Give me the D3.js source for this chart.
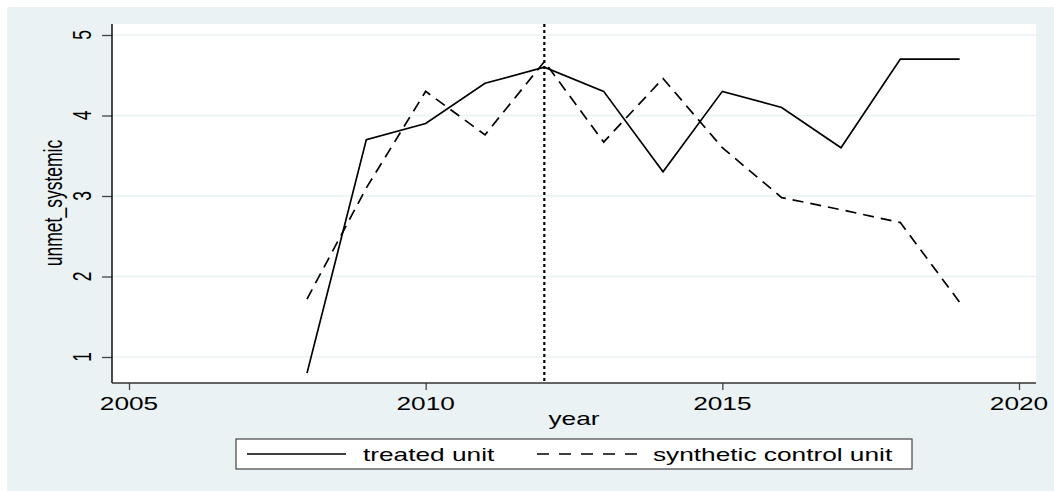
<!DOCTYPE html>
<html lang="en">
<head>
  <meta charset="UTF-8">
  <title>Synthetic control: unmet_systemic</title>
  <script src="https://d3js.org/d3.v7.min.js"></script>
  <style>
    body { margin: 0; padding: 0; overflow: hidden; background: #fff; }
    text { font-family: "Liberation Sans", Arial, sans-serif; fill: #000; }
  </style>
</head>
<body>
  <svg id="chart" width="1054" height="491"></svg>

  <script>
    // Data
    const years = [2008, 2009, 2010, 2011, 2012, 2013, 2014, 2015, 2016, 2017, 2018, 2019];
    const treated = [0.8, 3.7, 3.9, 4.4, 4.6, 4.3, 3.3, 4.3, 4.1, 3.6, 4.7, 4.7];
    const synthetic = [1.72, 3.1, 4.3, 3.76, 4.67, 3.67, 4.46, 3.6, 2.98, 2.83, 2.67, 1.68];
    const xTicks = [2005, 2010, 2015, 2020];
    const yTicks = [1, 2, 3, 4, 5];
    const treatmentYear = 2012;
    const legendLabels = ["treated unit", "synthetic control unit"];

    const svg = d3.select("#chart");
    const fs = 17.5, sx = 1.5;   // Stata output is stretched horizontally
    const plot = { left: 112, right: 1036, top: 24, bottom: 383 };

    // Scales
    const x = d3.scaleLinear().domain([2005, 2020]).range([129, 1019]);
    const y = d3.scaleLinear().domain([1, 5]).range([357, 35]);

    // Background
    svg.append("rect").attr("x", 7).attr("y", 7).attr("width", 1047).attr("height", 484)
      .attr("fill", "#eaf2f3");
    svg.append("rect").attr("x", plot.left).attr("y", plot.top)
      .attr("width", plot.right - plot.left).attr("height", plot.bottom - plot.top)
      .attr("fill", "#fff");

    // Gridlines
    svg.append("g").selectAll("line").data(yTicks).join("line")
      .attr("x1", plot.left).attr("x2", plot.right)
      .attr("y1", d => y(d)).attr("y2", d => y(d))
      .attr("stroke", "#eaf2f3").attr("stroke-width", 1.5);

    // Y axis
    const yAxis = svg.append("g").attr("transform", `translate(${plot.left},0)`)
      .call(d3.axisLeft(y).tickValues(yTicks).tickSize(10).tickSizeOuter(0).tickFormat(d3.format("d")));
    yAxis.select(".domain").remove();
    yAxis.selectAll(".tick line").attr("stroke", "#444").attr("stroke-width", 1.3);
    yAxis.selectAll(".tick text").remove();
    svg.append("line").attr("x1", plot.left).attr("x2", plot.left)
      .attr("y1", plot.top).attr("y2", plot.bottom).attr("stroke", "#000").attr("stroke-width", 1.4);

    svg.append("g").selectAll("text").data(yTicks).join("text")
      .attr("transform", d => `translate(91,${y(d)}) scale(${sx},1) rotate(-90)`)
      .attr("text-anchor", "middle").attr("font-size", fs)
      .text(d => d);

    svg.append("text")
      .attr("transform", `translate(62,203) scale(${sx},1) rotate(-90)`)
      .attr("text-anchor", "middle").attr("font-size", fs)
      .text("unmet_systemic");

    // X axis
    const xAxis = svg.append("g").attr("transform", `translate(0,${plot.bottom})`)
      .call(d3.axisBottom(x).tickValues(xTicks).tickSize(7).tickSizeOuter(0).tickFormat(d3.format("d")));
    xAxis.select(".domain").remove();
    xAxis.selectAll(".tick line").attr("stroke", "#444").attr("stroke-width", 1.3);
    xAxis.selectAll(".tick text").remove();
    svg.append("line").attr("x1", plot.left).attr("x2", plot.right)
      .attr("y1", plot.bottom).attr("y2", plot.bottom).attr("stroke", "#333").attr("stroke-width", 1.4);

    svg.append("g").selectAll("text").data(xTicks).join("text")
      .attr("transform", d => `translate(${x(d)},409.5) scale(${sx},1)`)
      .attr("text-anchor", "middle").attr("font-size", fs)
      .text(d => d);

    svg.append("text")
      .attr("transform", `translate(${(plot.left + plot.right) / 2},425) scale(${sx},1)`)
      .attr("text-anchor", "middle").attr("font-size", fs)
      .text("year");

    // Treatment line
    svg.append("line")
      .attr("x1", x(treatmentYear)).attr("x2", x(treatmentYear))
      .attr("y1", plot.top).attr("y2", plot.bottom)
      .attr("stroke", "#000").attr("stroke-width", 2.2).attr("stroke-dasharray", "3,3");

    // Series
    const line = d3.line().x(d => x(d[0])).y(d => y(d[1]));
    svg.append("path").datum(d3.zip(years, treated))
      .attr("d", line).attr("fill", "none").attr("stroke", "#000").attr("stroke-width", 1.7);
    svg.append("path").datum(d3.zip(years, synthetic))
      .attr("d", line).attr("fill", "none").attr("stroke", "#000").attr("stroke-width", 1.7)
      .attr("stroke-dasharray", "11,7");

    // Legend
    const lg = svg.append("g");
    lg.append("rect").attr("x", 236).attr("y", 439).attr("width", 676).attr("height", 30)
      .attr("fill", "#fff").attr("stroke", "#444").attr("stroke-width", 1.2);
    lg.append("line").attr("x1", 247).attr("x2", 346).attr("y1", 454).attr("y2", 454)
      .attr("stroke", "#000").attr("stroke-width", 1.7);
    lg.append("line").attr("x1", 537).attr("x2", 637).attr("y1", 454).attr("y2", 454)
      .attr("stroke", "#000").attr("stroke-width", 1.7).attr("stroke-dasharray", "12,10");
    lg.selectAll("text").data(legendLabels).join("text")
      .attr("transform", (d, i) => `translate(${i === 0 ? 363 : 653},460.5) scale(${sx},1)`)
      .attr("font-size", fs)
      .text(d => d);
  </script>
</body>
</html>
